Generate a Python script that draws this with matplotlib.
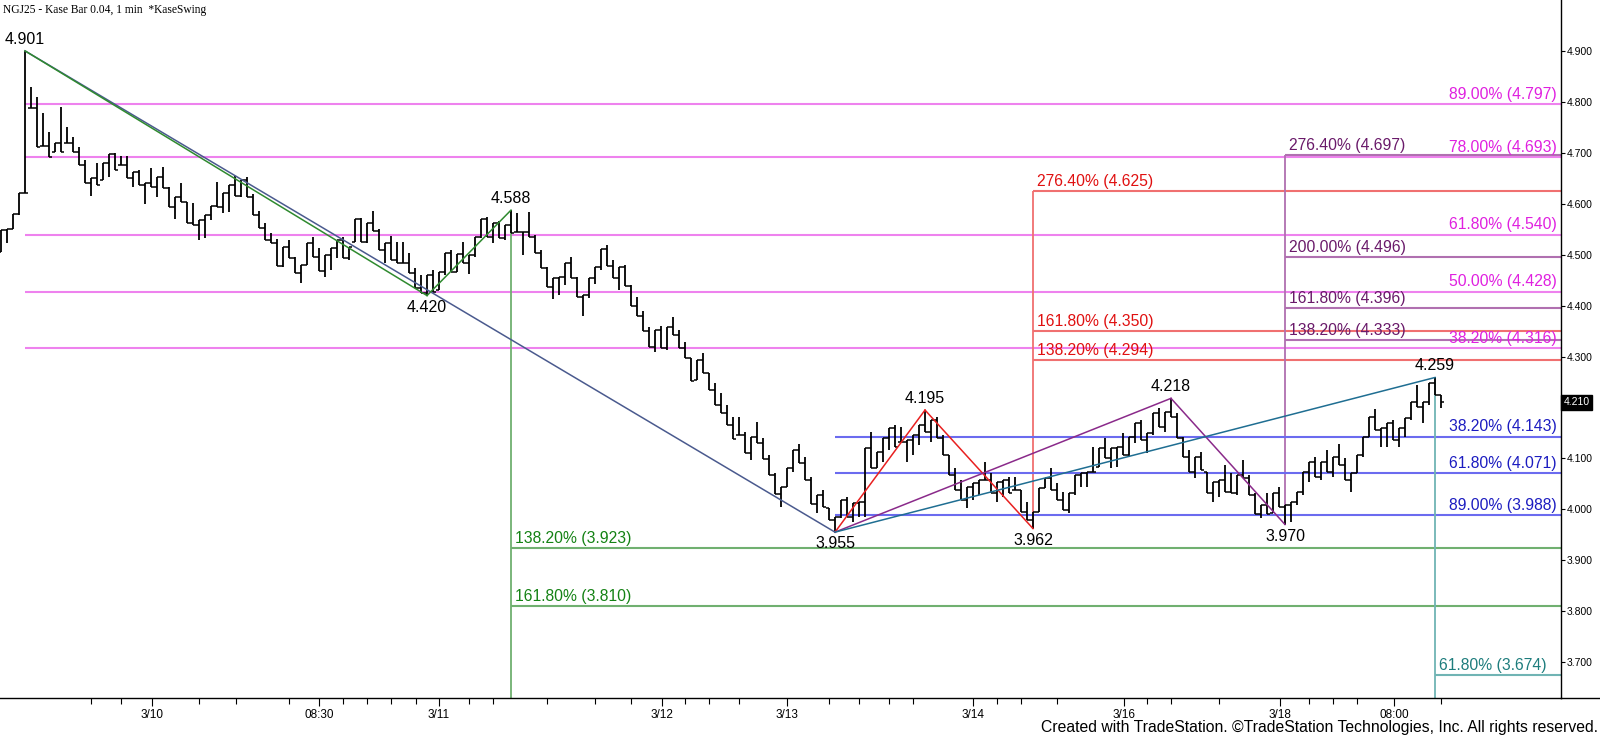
import numpy as np
import matplotlib.pyplot as plt
from matplotlib.lines import Line2D
import matplotlib.transforms as mtransforms

# bar highs / lows (one value per Kase bar)
highs = [
    4.549, 4.551, 4.580, 4.622, 4.901, 4.830, 4.810, 4.779, 4.742, 4.720,
    4.791, 4.751, 4.732, 4.712, 4.687, 4.651, 4.681, 4.681, 4.698, 4.700,
    4.694, 4.694, 4.663, 4.667, 4.641, 4.671, 4.653, 4.673, 4.634, 4.614,
    4.641, 4.604, 4.602, 4.569, 4.579, 4.596, 4.643, 4.622, 4.637, 4.655,
    4.647, 4.653, 4.620, 4.586, 4.563, 4.543, 4.531, 4.516, 4.529, 4.496,
    4.480, 4.524, 4.535, 4.514, 4.500, 4.514, 4.529, 4.535, 4.516, 4.571,
    4.573, 4.563, 4.586, 4.551, 4.524, 4.537, 4.526, 4.526, 4.504, 4.474,
    4.461, 4.461, 4.470, 4.467, 4.504, 4.510, 4.502, 4.526, 4.500, 4.535,
    4.571, 4.575, 4.563, 4.567, 4.559, 4.588, 4.582, 4.545, 4.584, 4.539,
    4.510, 4.476, 4.455, 4.457, 4.484, 4.496, 4.457, 4.421, 4.455, 4.476,
    4.512, 4.520, 4.490, 4.476, 4.480, 4.441, 4.417, 4.390, 4.358, 4.353,
    4.360, 4.358, 4.378, 4.353, 4.329, 4.298, 4.294, 4.307, 4.268, 4.248,
    4.229, 4.205, 4.182, 4.182, 4.152, 4.142, 4.172, 4.140, 4.107, 4.072,
    4.044, 4.081, 4.117, 4.129, 4.103, 4.064, 4.028, 4.038, 4.003, 3.985,
    4.019, 4.024, 4.013, 4.015, 4.121, 4.152, 4.113, 4.140, 4.160, 4.166,
    4.162, 4.136, 4.146, 4.166, 4.195, 4.176, 4.182, 4.146, 4.107, 4.081,
    4.058, 4.044, 4.052, 4.058, 4.093, 4.072, 4.054, 4.058, 4.064, 4.064,
    4.038, 4.015, 3.995, 4.042, 4.062, 4.081, 4.052, 4.034, 4.032, 4.068,
    4.072, 4.074, 4.123, 4.121, 4.140, 4.121, 4.123, 4.150, 4.142, 4.170,
    4.176, 4.150, 4.189, 4.199, 4.191, 4.218, 4.189, 4.142, 4.117, 4.103,
    4.113, 4.074, 4.054, 4.058, 4.087, 4.072, 4.068, 4.097, 4.068, 4.032,
    4.009, 4.032, 4.032, 4.044, 4.009, 4.015, 4.034, 4.074, 4.093, 4.103,
    4.093, 4.117, 4.103, 4.129, 4.101, 4.072, 4.107, 4.142, 4.182, 4.197,
    4.160, 4.170, 4.176, 4.160, 4.180, 4.211, 4.245, 4.211, 4.248, 4.259,
    4.225,
]
lows = [
    4.506, 4.524, 4.551, 4.579, 4.622, 4.789, 4.712, 4.714, 4.693, 4.702,
    4.702, 4.720, 4.702, 4.677, 4.641, 4.616, 4.637, 4.647, 4.653, 4.667,
    4.677, 4.651, 4.634, 4.637, 4.600, 4.634, 4.614, 4.632, 4.594, 4.571,
    4.604, 4.563, 4.559, 4.529, 4.533, 4.569, 4.594, 4.582, 4.584, 4.616,
    4.614, 4.614, 4.579, 4.553, 4.529, 4.524, 4.478, 4.476, 4.494, 4.465,
    4.445, 4.480, 4.496, 4.468, 4.457, 4.470, 4.494, 4.494, 4.490, 4.526,
    4.526, 4.524, 4.547, 4.510, 4.484, 4.490, 4.484, 4.484, 4.465, 4.435,
    4.425, 4.420, 4.427, 4.431, 4.461, 4.467, 4.467, 4.484, 4.463, 4.496,
    4.533, 4.535, 4.524, 4.533, 4.529, 4.543, 4.545, 4.500, 4.535, 4.504,
    4.474, 4.437, 4.413, 4.421, 4.441, 4.455, 4.417, 4.380, 4.415, 4.443,
    4.470, 4.478, 4.455, 4.431, 4.439, 4.400, 4.380, 4.351, 4.319, 4.309,
    4.317, 4.313, 4.343, 4.317, 4.298, 4.252, 4.254, 4.268, 4.235, 4.205,
    4.189, 4.166, 4.138, 4.146, 4.111, 4.097, 4.131, 4.099, 4.068, 4.030,
    4.005, 4.044, 4.074, 4.091, 4.058, 4.011, 3.993, 4.005, 3.979, 3.955,
    3.983, 3.985, 3.975, 3.985, 3.985, 4.081, 4.081, 4.093, 4.117, 4.123,
    4.133, 4.093, 4.107, 4.127, 4.152, 4.133, 4.140, 4.107, 4.068, 4.038,
    4.019, 4.003, 4.019, 4.028, 4.058, 4.032, 4.015, 4.024, 4.032, 4.038,
    3.995, 3.979, 3.962, 3.995, 4.042, 4.038, 4.019, 3.999, 3.993, 4.028,
    4.044, 4.044, 4.074, 4.083, 4.101, 4.081, 4.083, 4.107, 4.103, 4.131,
    4.136, 4.111, 4.146, 4.162, 4.152, 4.182, 4.140, 4.103, 4.074, 4.062,
    4.077, 4.032, 4.015, 4.024, 4.034, 4.032, 4.028, 4.062, 4.028, 3.991,
    3.983, 3.991, 3.993, 4.005, 3.970, 3.975, 4.009, 4.028, 4.054, 4.064,
    4.058, 4.074, 4.064, 4.087, 4.058, 4.034, 4.072, 4.103, 4.142, 4.156,
    4.123, 4.123, 4.136, 4.123, 4.142, 4.176, 4.201, 4.170, 4.205, 4.225,
    4.199,
]
last_close = 4.210

# swing points (bar index, price, label above/below)
swing_idx = [4, 71, 85, 139, 154, 172, 195, 214, 239]
swing_val = [4.901, 4.420, 4.588, 3.955, 4.195, 3.962, 4.218, 3.970, 4.259]
swing_top = [True, False, True, False, True, False, True, False, True]

# fib projection / retracement levels
mag_pct = ['89.00%', '78.00%', '61.80%', '50.00%', '38.20%']
mag_lvl = [4.797, 4.693, 4.540, 4.428, 4.316]
red_pct = ['276.40%', '161.80%', '138.20%']
red_lvl = [4.625, 4.350, 4.294]
pur_pct = ['276.40%', '200.00%', '161.80%', '138.20%']
pur_lvl = [4.697, 4.496, 4.396, 4.333]
blue_pct = ['38.20%', '61.80%', '89.00%']
blue_lvl = [4.143, 4.071, 3.988]
grn_pct = ['138.20%', '161.80%']
grn_lvl = [3.923, 3.810]
teal_pct = ['61.80%']
teal_lvl = [3.674]

xlab_pos = [25.1, 53, 73, 110.2, 131, 162, 187.2, 213.2, 232.2]
xlab_txt = ['3/10', '08:30', '3/11', '3/12', '3/13', '3/14', '3/16', '3/18', '08:00']
xminor_pos = [15, 20, 33, 39.2, 48, 57, 61, 65, 69.2, 78, 82, 91, 99, 105, 114, 118,
              123, 138, 143, 148, 152, 166, 170, 176, 191, 195, 203, 218, 222, 226, 240]
ytick_vals = [3.7, 3.8, 3.9, 4.0, 4.1, 4.2, 4.3, 4.4, 4.5, 4.6, 4.7, 4.8, 4.9]

FONT = ['Liberation Sans', 'DejaVu Sans']
NARROW = ['Liberation Sans Narrow', 'Liberation Sans', 'DejaVu Sans']

W, H = 1600, 739
fig = plt.figure(figsize=(W / 100, H / 100), dpi=100)
ax = fig.add_axes([0, 41 / H, 1561 / W, 698 / H])
ax.set_xlim(-0.17, 260)
ax.set_ylim(3.629, 5.001)

n = len(highs)
x = np.arange(n)
hi = np.array(highs)
lo = np.array(lows)

# close at the end of the bar that the next bar moves toward
closes = np.empty(n)
for i in range(n - 1):
    closes[i] = hi[i] if hi[i + 1] > hi[i] else lo[i]
closes[-1] = last_close
opens = np.empty(n)
opens[0] = lo[0]
opens[1:] = np.clip(closes[:-1], lo[1:], hi[1:])

ax.vlines(x, lo, hi, color='black', lw=1.3, zorder=3)
ax.hlines(opens, x - 0.42, x, color='black', lw=1.1, zorder=3)
ax.hlines(closes, x, x + 0.42, color='black', lw=1.1, zorder=3)

xr = 260
lab_fs = 11.3
dy = 0.004

# magenta retracements of the whole decline
for p, v in zip(mag_pct, mag_lvl):
    ax.hlines(v, swing_idx[0], xr, color='#ee82ee', lw=1.5, zorder=1)
    ax.text(259.3, v + dy, f'{p} ({v:.3f})', color='#e020e0', fontsize=lab_fs,
            ha='right', va='bottom', family=FONT)

# red projections
ax.vlines(172, 3.962, 4.625, color='#f07070', lw=1.3, zorder=1)
for p, v in zip(red_pct, red_lvl):
    ax.hlines(v, 172, xr, color='#f07070', lw=1.5, zorder=1)
    ax.text(172.6, v + dy, f'{p} ({v:.3f})', color='#e01010', fontsize=lab_fs,
            ha='left', va='bottom', family=FONT)

# purple projections
ax.vlines(214, 3.970, 4.697, color='#b070b0', lw=1.3, zorder=1)
for p, v in zip(pur_pct, pur_lvl):
    ax.hlines(v, 214, xr, color='#b070b0', lw=1.5, zorder=1)
    ax.text(214.6, v + dy, f'{p} ({v:.3f})', color='#6a1a6a', fontsize=lab_fs,
            ha='left', va='bottom', family=FONT)

# blue retracements
for p, v in zip(blue_pct, blue_lvl):
    ax.hlines(v, 139, xr, color='#6b6bef', lw=1.5, zorder=1)
    ax.text(259.3, v + dy, f'{p} ({v:.3f})', color='#1c1cc0', fontsize=lab_fs,
            ha='right', va='bottom', family=FONT)

# green projections
ax.vlines(85, 3.629, 4.588, color='#70b070', lw=1.3, zorder=1)
for p, v in zip(grn_pct, grn_lvl):
    ax.hlines(v, 85, xr, color='#70b070', lw=1.5, zorder=1)
    ax.text(85.6, v + dy, f'{p} ({v:.3f})', color='#148214', fontsize=lab_fs,
            ha='left', va='bottom', family=FONT)

# teal projection
ax.vlines(239, 3.629, 4.259, color='#70b4b4', lw=1.3, zorder=1)
for p, v in zip(teal_pct, teal_lvl):
    ax.hlines(v, 239, xr, color='#70b4b4', lw=1.5, zorder=1)
    ax.text(239.6, v + dy, f'{p} ({v:.3f})', color='#1e7d7d', fontsize=lab_fs,
            ha='left', va='bottom', family=FONT)

# swing lines
def seg(i, j, c):
    ax.plot([swing_idx[i], swing_idx[j]], [swing_val[i], swing_val[j]],
            color=c, lw=1.1, zorder=4)

seg(0, 3, '#4a5a8e')
seg(0, 1, '#2f8a2f')
seg(1, 2, '#2f8a2f')
seg(3, 4, '#e82020')
seg(4, 5, '#e82020')
seg(3, 6, '#8a2a8a')
seg(6, 7, '#8a2a8a')
seg(3, 8, '#1f6e92')

for i, v, top in zip(swing_idx, swing_val, swing_top):
    off = 0.008 if top else -0.008
    ax.text(i, v + off, f'{v:.3f}', fontsize=11.5, color='black', family=FONT,
            ha='center', va='bottom' if top else 'top', zorder=5)

# axes styling
for s in ['left', 'top']:
    ax.spines[s].set_visible(False)
ax.spines['right'].set_linewidth(1.0)
ax.spines['bottom'].set_linewidth(1.0)
ax.yaxis.tick_right()
ax.set_yticks(ytick_vals)
# the 4.200 label sits under the last-price box, so it is left blank
ax.set_yticklabels(['' if abs(v - 4.2) < 1e-9 else f'{v:.3f}' for v in ytick_vals],
                   fontsize=7.5, family=NARROW)
ax.tick_params(axis='y', direction='out', length=3, width=0.8, pad=1)

ax.set_xticks(xlab_pos)
ax.set_xticklabels(xlab_txt, fontsize=8.5, family=NARROW)
ax.set_xticks(xminor_pos, minor=True)
ax.tick_params(axis='x', which='major', direction='out', length=6, width=0.8, pad=2)
ax.tick_params(axis='x', which='minor', direction='out', length=4, width=0.8)

# last price marker
trans = mtransforms.blended_transform_factory(ax.transAxes, ax.transData)
ax.text(1.0015, last_close, f'{last_close:.3f}', transform=trans, fontsize=7.5,
        color='white', family=NARROW, va='center', ha='left', zorder=6,
        bbox=dict(boxstyle='square,pad=0.25', fc='black', ec='black'))

fig.add_artist(Line2D([1561 / W, 1], [41 / H, 41 / H], color='black', lw=1.0))

fig.text(0.002, 0.995, 'NGJ25 - Kase Bar 0.04, 1 min  *KaseSwing', fontsize=8.3,
         family=['Liberation Serif', 'DejaVu Serif'], va='top', ha='left')
fig.text(0.999, 0.006, 'Created with TradeStation. \u00a9TradeStation Technologies, Inc. All rights reserved.',
         fontsize=11.3, family=NARROW, ha='right', va='bottom')

fig.savefig('out.png', dpi=100)
